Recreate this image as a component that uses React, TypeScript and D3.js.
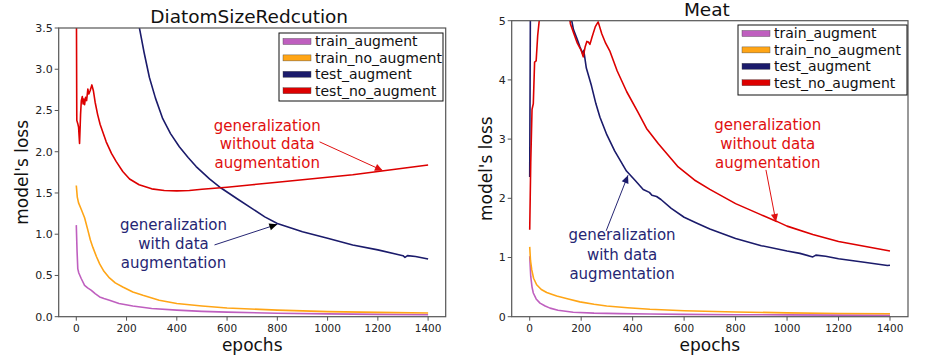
import React from 'react';
import * as d3 from 'd3';

type Pt = [number, number];

// ---- data: [epoch, loss] ----
const epochTicks = [0, 200, 400, 600, 800, 1000, 1200, 1400];
const diatomLossTicks = [0, 0.5, 1, 1.5, 2, 2.5, 3, 3.5];
const meatLossTicks = [0, 1, 2, 3, 4, 5];
const seriesNames = ['train_augment', 'train_no_augment', 'test_augment', 'test_no_augment'];
const seriesColors = ['#bf5fbf', '#ffa516', '#1b1b6b', '#dd0000'];

const diatomTrainAug: Pt[] = [
  [0, 1.11], [3, 0.8], [6, 0.58], [10, 0.53], [20, 0.46], [33, 0.38], [45, 0.35], [60, 0.32],
  [75, 0.28], [93, 0.24], [110, 0.22], [132, 0.2], [170, 0.16], [225, 0.13], [300, 0.1],
  [400, 0.08], [500, 0.065], [600, 0.055], [800, 0.042], [1000, 0.034], [1200, 0.028], [1400, 0.024],
];
const diatomTrainNoAug: Pt[] = [
  [0, 1.59], [4, 1.45], [9, 1.38], [20, 1.3], [33, 1.2], [46, 1.05], [56, 0.93], [66, 0.84],
  [80, 0.73], [93, 0.64], [110, 0.55], [132, 0.47], [155, 0.41], [185, 0.36], [225, 0.3],
  [265, 0.26], [330, 0.2], [400, 0.16], [500, 0.13], [600, 0.105], [800, 0.08], [1000, 0.062],
  [1200, 0.052], [1400, 0.045],
];
const diatomTestAug: Pt[] = [
  [245, 3.6], [270, 3.2], [291, 2.9], [315, 2.65], [344, 2.4], [375, 2.22], [410, 2.06],
  [445, 1.93], [477, 1.82], [530, 1.67], [576, 1.56], [640, 1.43], [700, 1.31], [750, 1.21],
  [800, 1.13], [900, 1.03], [1000, 0.95], [1100, 0.87], [1200, 0.81], [1300, 0.74],
  [1308, 0.72], [1318, 0.74], [1350, 0.73], [1400, 0.7],
];
const diatomTestNoAug: Pt[] = [
  [0, 4.2], [2, 2.38], [6, 2.34], [9, 2.3], [13, 2.1], [17, 2.45], [20, 2.62], [24, 2.67],
  [27, 2.58], [30, 2.64], [33, 2.57], [37, 2.66], [41, 2.62], [46, 2.76], [50, 2.7],
  [55, 2.74], [62, 2.81], [68, 2.74], [75, 2.6], [85, 2.45], [95, 2.33], [119, 2.12],
  [140, 1.98], [159, 1.88], [185, 1.76], [212, 1.67], [250, 1.6], [300, 1.55], [350, 1.53],
  [400, 1.525], [450, 1.53], [500, 1.545], [600, 1.57], [700, 1.6], [800, 1.63], [900, 1.66],
  [1000, 1.69], [1100, 1.72], [1200, 1.76], [1300, 1.8], [1400, 1.84],
];

const meatTrainAug: Pt[] = [
  [0, 1.02], [4, 0.68], [9, 0.5], [14, 0.4], [25, 0.3], [40, 0.23], [60, 0.18], [79, 0.145],
  [110, 0.11], [169, 0.075], [250, 0.06], [350, 0.052], [467, 0.046], [600, 0.04],
  [800, 0.034], [1000, 0.03], [1200, 0.026], [1400, 0.022],
];
const meatTrainNoAug: Pt[] = [
  [0, 1.18], [3, 0.95], [8, 0.79], [15, 0.65], [27, 0.54], [45, 0.46], [66, 0.41], [85, 0.38],
  [105, 0.35], [150, 0.3], [195, 0.25], [250, 0.21], [299, 0.18], [380, 0.15], [467, 0.125],
  [600, 0.1], [800, 0.08], [1000, 0.065], [1200, 0.055], [1400, 0.05],
];
const meatTestAug: Pt[] = [
  [0, 2.36], [3, 5.6], [60, 6.5], [120, 6.0], [150, 5.2], [156, 5.0], [162, 5.03], [170, 4.85],
  [185, 4.68], [195, 4.56], [205, 4.45], [210, 4.5], [220, 4.2], [240, 3.9], [257, 3.6],
  [273, 3.37], [300, 3.07], [330, 2.8], [376, 2.46], [410, 2.3], [441, 2.15], [465, 2.1],
  [475, 2.05], [493, 2.03], [510, 1.98], [550, 1.83], [600, 1.68], [650, 1.58], [700, 1.48],
  [750, 1.4], [800, 1.32], [900, 1.2], [1000, 1.11], [1050, 1.07], [1100, 1.01], [1112, 1.04],
  [1150, 1.02], [1200, 0.98], [1300, 0.92], [1390, 0.865], [1400, 0.87],
];
const meatTestNoAug: Pt[] = [
  [0, 1.47], [4, 2.6], [9, 3.5], [14, 3.6], [19, 4.3], [25, 4.32], [31, 4.75], [37, 5.0],
  [45, 5.6], [90, 6.6], [140, 5.8], [152, 5.2], [158, 4.95], [170, 4.8], [185, 4.62],
  [200, 4.5], [208, 4.39], [215, 4.55], [222, 4.65], [228, 4.64], [234, 4.6], [242, 4.72],
  [255, 4.9], [266, 4.98], [280, 4.78], [295, 4.62], [312, 4.48], [340, 4.15], [377, 3.8],
  [420, 3.46], [454, 3.18], [500, 2.92], [577, 2.53], [640, 2.31], [700, 2.15], [800, 1.91],
  [900, 1.72], [960, 1.61], [1000, 1.53], [1100, 1.39], [1200, 1.27], [1300, 1.19], [1400, 1.11],
];

interface Note {
  lines: string[];
  color: string;
  head: string;
  at: Pt; // text centre of first line (epoch, loss)
  from: Pt;
  to: Pt;
  lineGap: number;
}

const diatomNotes: Note[] = [
  { lines: ['generalization', 'without data', 'augmentation'], color: '#e01010', head: '#e01010', at: [760, 2.32], from: [968, 2.12], to: [1220, 1.77], lineGap: 18.5 },
  { lines: ['generalization', 'with data', 'augmentation'], color: '#262673', head: '#000', at: [387, 1.12], from: [550, 0.87], to: [800, 1.12], lineGap: 19 },
];
const meatNotes: Note[] = [
  { lines: ['generalization', 'without data', 'augmentation'], color: '#e01010', head: '#e01010', at: [925, 3.24], from: [918, 2.48], to: [957, 1.6], lineGap: 19 },
  { lines: ['generalization', 'with data', 'augmentation'], color: '#262673', head: '#1b1b6b', at: [359, 1.38], from: [297, 1.45], to: [382, 2.39], lineGap: 19.5 },
];

const FONT = 'DejaVu Sans, sans-serif';

interface PanelProps {
  id: string;
  title: string;
  box: { left: number; right: number; top: number; bottom: number };
  yTicks: number[];
  fmt: (v: number) => string;
  series: Pt[][];
  notes: Note[];
  legend: { x: number; y: number; w: number; h: number };
  ylabelX: number;
}

const Panel: React.FC<PanelProps> = ({ id, title, box, yTicks, fmt, series, notes, legend, ylabelX }) => {
  const x = d3.scaleLinear().domain([-70, 1470]).range([box.left, box.right]);
  const y = d3.scaleLinear().domain([0, yTicks[yTicks.length - 1]]).range([box.bottom, box.top]);
  const line = d3.line<Pt>().x(d => x(d[0])).y(d => y(d[1]));
  const cx = (box.left + box.right) / 2;
  const cy = (box.top + box.bottom) / 2;

  return (
    <g fontFamily={FONT}>
      <defs>
        <clipPath id={`clip-${id}`}>
          <rect x={box.left} y={box.top} width={box.right - box.left} height={box.bottom - box.top} />
        </clipPath>
        {notes.map((n, i) => (
          <marker key={i} id={`arr-${id}-${i}`} viewBox="0 0 10 10" refX="10" refY="5"
            markerWidth="11" markerHeight="8" markerUnits="userSpaceOnUse" orient="auto">
            <path d="M0,0.5 L10,5 L0,9.5 Z" fill={n.head} />
          </marker>
        ))}
      </defs>

      <g clipPath={`url(#clip-${id})`}>
        {series.map((s, i) => (
          <path key={i} d={line(s) ?? ''} fill="none" stroke={seriesColors[i]} strokeWidth={1.6}
            strokeLinejoin="round" />
        ))}
      </g>

      <rect x={box.left} y={box.top} width={box.right - box.left} height={box.bottom - box.top}
        fill="none" stroke="#555" strokeWidth={1.2} />

      {epochTicks.map(t => (
        <g key={t} transform={`translate(${x(t)},${box.bottom})`}>
          <line y2={4} stroke="#555" />
          <text y={15} textAnchor="middle" fontSize={10.5} fill="#222">{t}</text>
        </g>
      ))}
      {yTicks.map(t => (
        <g key={t} transform={`translate(${box.left},${y(t)})`}>
          <line x2={-4} stroke="#555" />
          <text x={-6} dy="0.35em" textAnchor="end" fontSize={11} fill="#222">{fmt(t)}</text>
        </g>
      ))}

      <text x={cx} y={box.bottom + 34} textAnchor="middle" fontSize={17} fill="#111">epochs</text>
      <text transform={`translate(${ylabelX},${cy}) rotate(-90)`} textAnchor="middle" fontSize={17}
        fill="#111">model's loss</text>
      <text x={cx - 3} y={box.top - 5} textAnchor="middle" fontSize={18.5} fill="#111">{title}</text>

      {notes.map((n, i) => (
        <g key={i}>
          {n.lines.map((l, j) => (
            <text key={j} x={x(n.at[0])} y={y(n.at[1]) + j * n.lineGap} dy="0.35em" textAnchor="middle"
              fontSize={15} fill={n.color}>{l}</text>
          ))}
          <line x1={x(n.from[0])} y1={y(n.from[1])} x2={x(n.to[0])} y2={y(n.to[1])}
            stroke={n.color} strokeWidth={1} markerEnd={`url(#arr-${id}-${i})`} />
        </g>
      ))}

      <g transform={`translate(${legend.x},${legend.y})`}>
        <rect width={legend.w} height={legend.h} fill="#fff" stroke="#111" strokeWidth={1} />
        {seriesNames.map((name, i) => (
          <g key={name} transform={`translate(0,${8.5 + i * 16.4})`}>
            <rect x={4} y={-3} width={28} height={6} fill={seriesColors[i]} stroke="#444" strokeWidth={0.4} />
            <text x={36} dy="0.35em" fontSize={14} fill="#111">{name}</text>
          </g>
        ))}
      </g>
    </g>
  );
};

export default function App() {
  return (
    <svg width={926} height={359} style={{ position: 'absolute', left: 0, top: 0, background: '#fff' }}>
      <Panel id="diatom" title="DiatomSizeRedcution"
        box={{ left: 58.7, right: 445.7, top: 28, bottom: 316.7 }}
        yTicks={diatomLossTicks} fmt={d3.format('.1f')}
        series={[diatomTrainAug, diatomTrainNoAug, diatomTestAug, diatomTestNoAug]}
        notes={diatomNotes} legend={{ x: 279, y: 33, w: 164, h: 68 }} ylabelX={28} />
      <Panel id="meat" title="Meat"
        box={{ left: 511.7, right: 908, top: 20.7, bottom: 316.7 }}
        yTicks={meatLossTicks} fmt={d3.format('d')}
        series={[meatTrainAug, meatTrainNoAug, meatTestAug, meatTestNoAug]}
        notes={meatNotes} legend={{ x: 738, y: 25, w: 169, h: 70 }} ylabelX={492} />
    </svg>
  );
}
